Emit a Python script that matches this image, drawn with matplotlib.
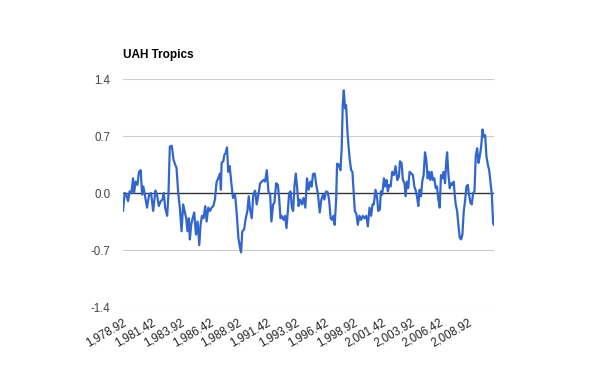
import matplotlib
matplotlib.use("Agg")
import matplotlib.pyplot as plt

# UAH tropics anomaly
years = [
    1978.92, 1979.07, 1979.21, 1979.36, 1979.50, 1979.65, 1979.79, 1979.88, 1980.02, 1980.17,
    1980.31, 1980.46, 1980.58, 1980.69, 1980.84, 1981.01, 1981.19, 1981.36, 1981.54, 1981.74,
    1981.88, 1982.03, 1982.20, 1982.35, 1982.47, 1982.58, 1982.76, 1982.87, 1982.99, 1983.16,
    1983.31, 1983.45, 1983.57, 1983.72, 1983.86, 1984.01, 1984.15, 1984.27, 1984.41, 1984.53,
    1984.65, 1984.73, 1984.85, 1984.97, 1985.11, 1985.26, 1985.40, 1985.55, 1985.66, 1985.78,
    1985.92, 1986.07, 1986.19, 1986.33, 1986.48,
    1986.62, 1986.77, 1986.91, 1987.06, 1987.20, 1987.35, 1987.43, 1987.49, 1987.64, 1987.73,
    1987.84, 1987.96, 1988.07, 1988.19, 1988.34, 1988.48, 1988.66, 1988.80, 1988.95, 1989.09,
    1989.18, 1989.29, 1989.44, 1989.59, 1989.73, 1989.85, 1989.96, 1990.11, 1990.25, 1990.40,
    1990.54, 1990.69, 1990.84, 1990.98, 1991.13, 1991.27, 1991.42, 1991.56, 1991.71, 1991.82,
    1991.97, 1992.08, 1992.23, 1992.38, 1992.49, 1992.61, 1992.72, 1992.87, 1993.01, 1993.13,
    1993.25, 1993.36, 1993.48, 1993.60, 1993.71, 1993.83, 1993.94, 1994.06, 1994.18, 1994.32,
    1994.47, 1994.61,
    1994.77, 1994.91, 1995.06, 1995.20, 1995.32, 1995.43, 1995.58, 1995.72, 1995.87, 1996.02,
    1996.16, 1996.31, 1996.42, 1996.57, 1996.71, 1996.83, 1996.97, 1997.09, 1997.21, 1997.32,
    1997.44, 1997.53, 1997.67, 1997.82, 1997.93, 1998.02, 1998.11, 1998.22, 1998.31, 1998.43,
    1998.54, 1998.63, 1998.75, 1998.86, 1998.98, 1999.07, 1999.21, 1999.33, 1999.47, 1999.62,
    1999.76, 1999.91, 2000.06, 2000.20, 2000.35, 2000.49, 2000.61, 2000.72, 2000.87, 2001.01,
    2001.10, 2001.25, 2001.33, 2001.45, 2001.60, 2001.71, 2001.83, 2001.94, 2002.06, 2002.18,
    2002.32, 2002.47, 2002.61, 2002.76, 2002.90, 2002.99,
    2003.13, 2003.25, 2003.39, 2003.48, 2003.60, 2003.71, 2003.83, 2003.98, 2004.12, 2004.24,
    2004.35, 2004.47, 2004.59, 2004.70, 2004.82, 2004.93, 2005.05, 2005.17, 2005.28, 2005.40,
    2005.52, 2005.63, 2005.75, 2005.86, 2005.98, 2006.10, 2006.21, 2006.33, 2006.45, 2006.56,
    2006.68, 2006.79, 2006.91, 2007.00, 2007.09, 2007.20, 2007.32, 2007.43, 2007.55, 2007.67,
    2007.75, 2007.84, 2007.96, 2008.07, 2008.19, 2008.31, 2008.42, 2008.54, 2008.65, 2008.77,
    2008.89, 2009.00, 2009.12, 2009.24, 2009.35, 2009.47, 2009.58, 2009.70, 2009.82, 2009.93,
    2010.05, 2010.17, 2010.28, 2010.40, 2010.51, 2010.63, 2010.75, 2010.86, 2010.98, 2011.09,
    2011.15,
]
anomaly = [
    -0.22, 0.00, -0.02, -0.10, 0.02, 0.00, 0.18, 0.00, 0.14, 0.10,
    0.26, 0.28, -0.02, 0.08, -0.04, -0.18, -0.02, 0.00, -0.22, 0.03,
    -0.02, -0.16, -0.10, -0.08, 0.00, -0.18, -0.28, -0.02, 0.57, 0.58,
    0.41, 0.35, 0.31, 0.00, -0.18, -0.47, -0.14, -0.22, -0.31, -0.47,
    -0.31, -0.57, -0.39, -0.31, -0.24, -0.51, -0.35, -0.64, -0.39, -0.28,
    -0.31, -0.16, -0.35, -0.18, -0.22,
    -0.18, -0.16, -0.08, 0.14, 0.18, 0.24, 0.04, 0.37, 0.39, 0.47,
    0.49, 0.56, 0.26, 0.33, 0.12, -0.06, -0.02, -0.24, -0.55, -0.67,
    -0.73, -0.47, -0.45, -0.31, -0.22, -0.04, -0.20, -0.31, -0.02, 0.03,
    -0.14, -0.02, 0.12, 0.14, 0.16, 0.14, 0.28, 0.02, -0.02, -0.35,
    -0.14, -0.12, 0.12, 0.10, -0.06, -0.31, -0.28, -0.33, -0.28, -0.43,
    -0.22, 0.00, 0.02, -0.18, -0.22, 0.10, 0.24, 0.06, -0.16, -0.08,
    -0.14, -0.06,
    -0.18, 0.18, 0.04, 0.14, 0.08, 0.23, 0.24, 0.10, -0.02, -0.24,
    -0.08, -0.02, -0.08, 0.02, 0.01, -0.08, -0.31, -0.33, -0.28, -0.39,
    -0.10, 0.36, 0.35, 0.28, 0.55, 1.08, 1.26, 1.04, 1.08, 0.75,
    0.55, 0.41, 0.28, 0.26, -0.02, -0.22, -0.26, -0.39, -0.28, -0.33,
    -0.28, -0.31, -0.28, -0.41, -0.18, -0.28, -0.14, -0.14, 0.04, -0.06,
    -0.22, -0.20, 0.02, -0.02, 0.18, 0.08, 0.16, 0.02, 0.10, 0.08,
    0.26, 0.22, 0.33, 0.16, 0.20, 0.39,
    0.37, 0.16, 0.12, -0.04, 0.14, 0.06, 0.26, 0.24, 0.22, 0.08,
    0.04, -0.04, -0.16, 0.04, -0.04, 0.14, 0.22, 0.50, 0.41, 0.18,
    0.26, 0.16, 0.26, 0.16, 0.18, 0.06, 0.08, -0.08, -0.18, 0.22,
    0.18, 0.26, 0.12, 0.35, 0.50, 0.24, 0.06, 0.12, 0.10, 0.14,
    -0.02, -0.14, -0.22, -0.39, -0.55, -0.57, -0.51, -0.22, -0.10, 0.08,
    0.10, -0.02, -0.12, -0.14, 0.00, 0.02, 0.45, 0.55, 0.37, 0.45,
    0.57, 0.78, 0.69, 0.71, 0.45, 0.35, 0.28, 0.14, -0.02, -0.37,
    -0.39,
]

y_ticks = [1.4, 0.7, 0.0, -0.7, -1.4]
x_ticks = [1978.92 + 2.5 * k for k in range(13)]
x_labels = [f"{t:,.2f}" for t in x_ticks]

plt.rcParams["font.family"] = ["Liberation Sans", "DejaVu Sans"]

fig = plt.figure(figsize=(6, 3.71), dpi=100)
ax = fig.add_axes([0.205, 0.1725, 0.618, 0.6145])

for yt in y_ticks:
    if yt != 0:
        ax.axhline(yt, color="#cccccc", linewidth=0.8, zorder=1)
ax.axhline(0, color="#333333", linewidth=1.0, zorder=2)

ax.plot(years, anomaly, color="#3366cc", linewidth=1.6, zorder=3)

ax.set_xlim(years[0], years[-1])
ax.set_ylim(-1.4, 1.4)
ax.set_yticks(y_ticks)
ax.set_yticklabels([f"{t:.1f}" for t in y_ticks])
ax.set_xticks(x_ticks)
ax.set_xticklabels(x_labels, rotation=30, ha="right", rotation_mode="anchor")
ax.tick_params(axis="both", length=0, labelsize=8.3, colors="#222222")
ax.tick_params(axis="y", pad=9, labelcolor="#444444")
ax.tick_params(axis="x", pad=7)
for s in ax.spines.values():
    s.set_visible(False)

fig.text(0.205, 0.843, "UAH Tropics", fontsize=8.5, fontweight="bold", color="black")

fig.savefig("out.png", dpi=100)
